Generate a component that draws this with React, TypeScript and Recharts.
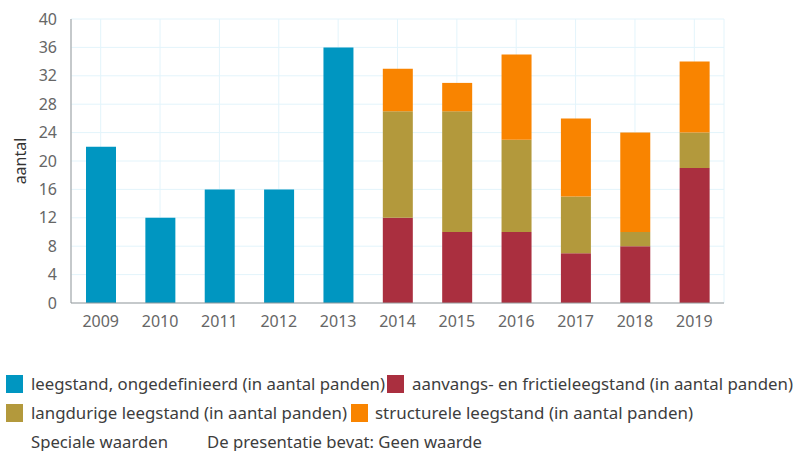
import React from 'react';
import { BarChart, Bar, XAxis, YAxis, CartesianGrid } from 'recharts';

const years = ['2009', '2010', '2011', '2012', '2013', '2014', '2015', '2016', '2017', '2018', '2019'];
const ongedefinieerd = [22, 12, 16, 16, 36, null, null, null, null, null, null];
const aanvangs = [null, null, null, null, null, 12, 10, 10, 7, 8, 19];
const langdurig = [null, null, null, null, null, 15, 17, 13, 8, 2, 5];
const structureel = [null, null, null, null, null, 6, 4, 12, 11, 14, 10];
const yTicks = [0, 4, 8, 12, 16, 20, 24, 28, 32, 36, 40];

const series = [
  { key: 'ongedefinieerd', label: 'leegstand, ongedefinieerd (in aantal panden)', color: '#0096c1' },
  { key: 'aanvangs', label: 'aanvangs- en frictieleegstand (in aantal panden)', color: '#aa2f3f' },
  { key: 'langdurig', label: 'langdurige leegstand (in aantal panden)', color: '#b3993c' },
  { key: 'structureel', label: 'structurele leegstand (in aantal panden)', color: '#f98400' },
];

const data = years.map((year, i) => ({
  year,
  ongedefinieerd: ongedefinieerd[i],
  aanvangs: aanvangs[i],
  langdurig: langdurig[i],
  structureel: structureel[i],
}));

const fontFamily = '"Noto Sans", sans-serif';
const tickStyle = { fill: '#666666', fontSize: 16, fontFamily };

// legend layout: swatch x, text x, text width, row
const legendItems = [
  { s: 0, sx: 6, tx: 31, w: 354, row: 0 },
  { s: 1, sx: 387, tx: 412, w: 381, row: 0 },
  { s: 2, sx: 6, tx: 31, w: 316, row: 1 },
  { s: 3, sx: 351, tx: 375, w: 318, row: 1 },
];
const rowTop = [375, 404];
const rowBase = [390, 419];

export default function App() {
  return (
    <div style={{ position: 'absolute', left: 0, top: 0, width: 793, height: 451, background: '#fff', overflow: 'hidden' }}>
      <BarChart
        width={793}
        height={340}
        data={data}
        margin={{ top: 19, right: 69, bottom: 0, left: 0 }}
        barSize={30}
      >
        <CartesianGrid stroke="#e3f4fb" />
        <XAxis
          dataKey="year"
          height={37}
          tick={tickStyle}
          tickLine={false}
          tickSize={6}
          tickMargin={7}
          stroke="#999999"
        />
        <XAxis xAxisId="top" orientation="top" dataKey="year" height={0} tick={false} tickLine={false} stroke="#999999" />
        <YAxis
          width={71}
          domain={[0, 40]}
          ticks={yTicks}
          tick={tickStyle}
          tickLine={false}
          tickMargin={8}
          stroke="#999999"
          label={{ value: 'aantal', angle: -90, position: 'insideLeft', offset: 20, style: { fill: '#333', fontSize: 16, fontFamily, textAnchor: 'middle' } }}
        />
        <YAxis yAxisId="right" orientation="right" width={0} tick={false} tickLine={false} stroke="#999999" domain={[0, 40]} />
        {series.map((s) => (
          <Bar key={s.key} dataKey={s.key} stackId="a" fill={s.color} isAnimationActive={false} />
        ))}
      </BarChart>
      <svg width={793} height={111} style={{ position: 'absolute', left: 0, top: 340 }}>
        <g transform="translate(0,-340)" fontFamily={fontFamily} fontSize={17} fill="#3d3d3d">
          {legendItems.map((it) => (
            <g key={it.s}>
              <rect x={it.sx} y={rowTop[it.row]} width={17} height={18} fill={series[it.s].color} />
              <text x={it.tx} y={rowBase[it.row]} textLength={it.w} lengthAdjust="spacingAndGlyphs">
                {series[it.s].label}
              </text>
            </g>
          ))}
          <text x={31} y={448} textLength={137} lengthAdjust="spacingAndGlyphs">Speciale waarden</text>
          <text x={207} y={448} textLength={275} lengthAdjust="spacingAndGlyphs">De presentatie bevat: Geen waarde</text>
        </g>
      </svg>
    </div>
  );
}
